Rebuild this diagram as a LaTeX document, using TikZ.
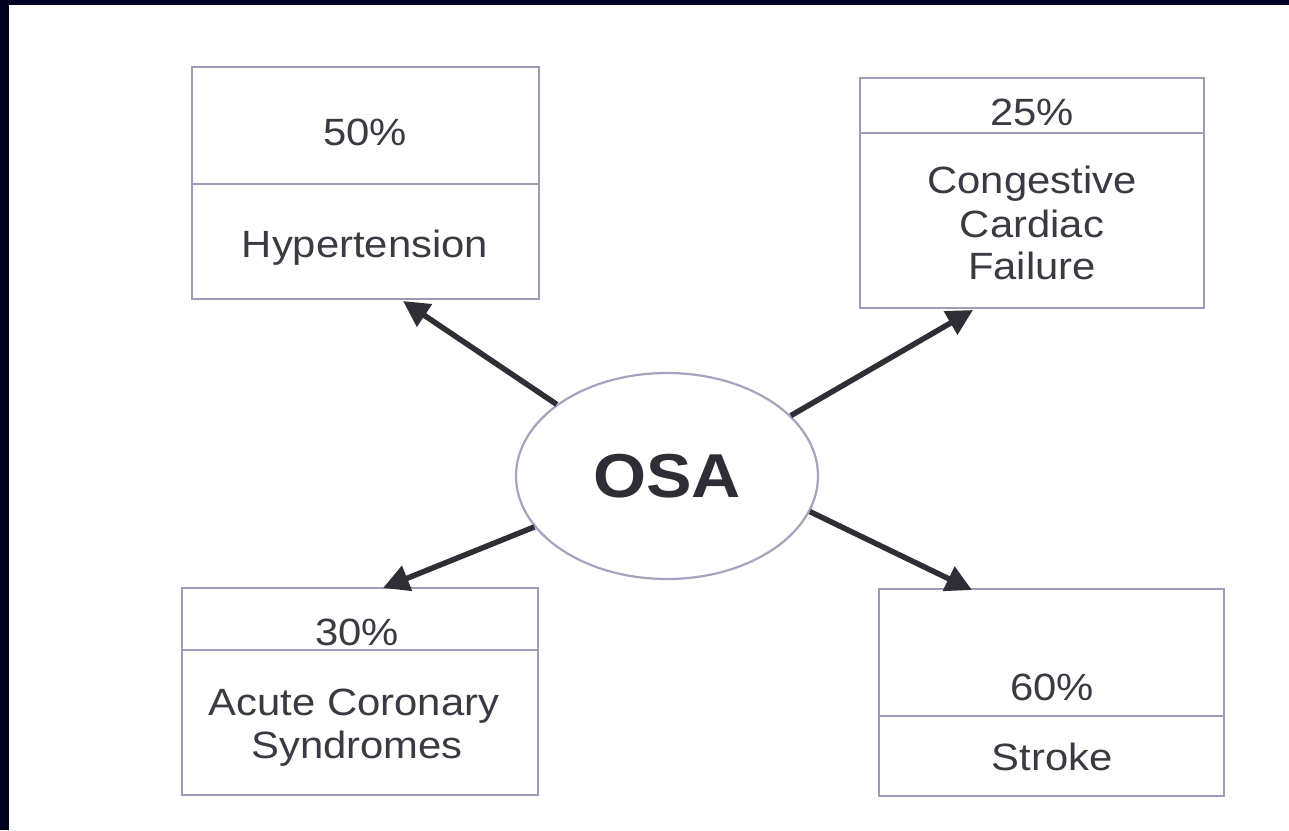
\documentclass[tikz,border=0pt]{standalone}
\usepackage{fontspec}
\setmainfont{Liberation Sans}
\newfontfamily\lblfont[FakeStretch=1.1]{Liberation Sans}
\usetikzlibrary{arrows.meta,shapes.geometric}
\definecolor{navy}{HTML}{000022}
\definecolor{boxcol}{HTML}{9C9CB8}
\definecolor{ellcol}{HTML}{A4A4BE}
\definecolor{txtcol}{HTML}{3A3A42}
\definecolor{arrcol}{HTML}{2E2E36}
\begin{document}
\begin{tikzpicture}[x=1pt,y=-1pt,
  boxrect/.style={draw=boxcol,line width=2.6pt,rectangle,inner sep=0pt,fill=white},
  divider/.style={draw=boxcol,line width=2.6pt},
  lbl/.style={font=\lblfont\fontsize{38pt}{43pt}\selectfont,text=txtcol,anchor=base,inner sep=0pt},
  arr/.style={draw=arrcol,line width=5.5pt,-{Triangle[length=26pt,width=26pt]}}]
\useasboundingbox (0,0) rectangle (1289,830);
\fill[white] (0,0) rectangle (1289,830);
\fill[navy] (0,0) rectangle (1289,5);
\fill[navy] (0,0) rectangle (9,830);

% boxes
\node[boxrect,minimum width=347pt,minimum height=232pt] (ht) at (365.5,183) {};
\node[boxrect,minimum width=344pt,minimum height=230pt] (ccf) at (1032,193) {};
\node[boxrect,minimum width=356pt,minimum height=207pt] (acs) at (360,691.5) {};
\node[boxrect,minimum width=345pt,minimum height=207pt] (stk) at (1051.5,692.5) {};

\draw[divider] (ht.west |- 0,184) -- (ht.east |- 0,184);
\draw[divider] (ccf.west |- 0,133) -- (ccf.east |- 0,133);
\draw[divider] (acs.west |- 0,650) -- (acs.east |- 0,650);
\draw[divider] (stk.west |- 0,716) -- (stk.east |- 0,716);

% labels
\node[lbl] (htp) at (365,145) {50\%};
\node[lbl] (htn) at (365,257) {Hypertension};
\node[lbl] (ccfp) at (1032,125) {25\%};
\node[lbl] (ccf1) at (1032,193) {Congestive};
\node[lbl] (ccf2) at (1032,237) {Cardiac};
\node[lbl] (ccf3) at (1032,279) {Failure};
\node[lbl] (acsp) at (357,645) {30\%};
\node[lbl] (acs1) at (354,715) {Acute Coronary};
\node[lbl] (acs2) at (357,758) {Syndromes};
\node[lbl] (stkp) at (1052,700) {60\%};
\node[lbl] (stkn) at (1052,770) {Stroke};

% central ellipse
\node[ellipse,draw=ellcol,line width=2.2pt,fill=white,minimum width=302pt,minimum height=206pt,inner sep=0pt,
      font=\lblfont\bfseries\fontsize{62pt}{62pt}\selectfont,text=arrcol] (osa) at (667,476) {OSA};

% arrow tips
\coordinate (htTip) at (403,301);
\coordinate (ccfTip) at (973,310);
\coordinate (acsTip) at (383,588);
\coordinate (stkTip) at (972,590);

\draw[arr] (osa.147.7) -- (htTip);
\draw[arr] (osa.26.2) -- (ccfTip);
\draw[arr] (osa.201.6) -- (acsTip);
\draw[arr] (osa.346.5) -- (stkTip);
\end{tikzpicture}
\end{document}
